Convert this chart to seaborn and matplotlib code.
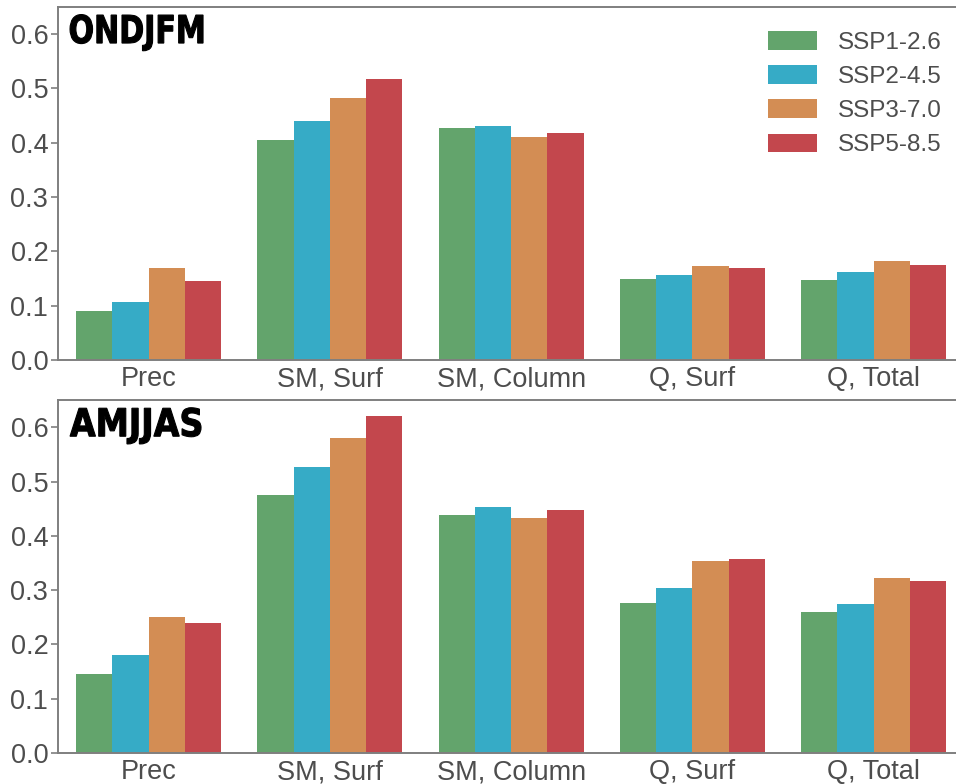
import pandas as pd
import numpy as np
import matplotlib
matplotlib.use("Agg")
import matplotlib.pyplot as plt
import seaborn as sns
from matplotlib.textpath import TextPath
from matplotlib.patches import PathPatch
from matplotlib.font_manager import FontProperties
from matplotlib.transforms import Affine2D, IdentityTransform

# Data
variables = ["Prec", "SM, Surf", "SM, Column", "Q, Surf", "Q, Total"]
scenarios = ["SSP1-2.6", "SSP2-4.5", "SSP3-7.0", "SSP5-8.5"]
colors = ["#63a46c", "#36abc6", "#d38d54", "#c3474d"]

# ONDJFM values, one list per scenario (order follows variables)
ondjfm_ssp126 = [0.090, 0.405, 0.427, 0.149, 0.147]
ondjfm_ssp245 = [0.107, 0.440, 0.431, 0.156, 0.162]
ondjfm_ssp370 = [0.169, 0.482, 0.411, 0.173, 0.182]
ondjfm_ssp585 = [0.145, 0.517, 0.418, 0.169, 0.175]

# AMJJAS values
amjjas_ssp126 = [0.145, 0.475, 0.438, 0.276, 0.260]
amjjas_ssp245 = [0.180, 0.527, 0.453, 0.304, 0.274]
amjjas_ssp370 = [0.250, 0.580, 0.433, 0.354, 0.322]
amjjas_ssp585 = [0.239, 0.621, 0.447, 0.357, 0.317]

yticks = [0.0, 0.1, 0.2, 0.3, 0.4, 0.5, 0.6]


def to_long(series_list):
    rows = []
    for scen, vals in zip(scenarios, series_list):
        for var, v in zip(variables, vals):
            rows.append({"variable": var, "scenario": scen, "value": v})
    return pd.DataFrame(rows)


df_ondjfm = to_long([ondjfm_ssp126, ondjfm_ssp245, ondjfm_ssp370, ondjfm_ssp585])
df_amjjas = to_long([amjjas_ssp126, amjjas_ssp245, amjjas_ssp370, amjjas_ssp585])

sns.set_style("white")
plt.rcParams['font.family'] = ['Liberation Sans', 'DejaVu Sans']

fig = plt.figure(figsize=(9.56, 7.84), dpi=100)
ax1 = fig.add_axes([0.0607, 0.541, 0.9404, 0.450])
ax2 = fig.add_axes([0.0607, 0.0395, 0.9404, 0.450])

tick_col = "#4d4d4d"
spine_col = "#7f7f7f"


def condensed_label(ax, text, width_px=133, cap_px=28, dx=12, dy=8):
    # heavy condensed panel label: a bold text path squeezed horizontally
    fp = FontProperties(family="DejaVu Sans", weight="bold")
    path = TextPath((0, 0), text, size=cap_px / 0.729, prop=fp)
    ext = path.get_extents()
    sx = width_px / ext.width
    bb = ax.get_window_extent()
    x0 = bb.x0 + dx - ext.x0 * sx
    y0 = bb.y1 - dy - cap_px
    tr = Affine2D().scale(sx, 1.0).translate(x0, y0) + IdentityTransform()
    fig.add_artist(PathPatch(path, transform=tr, facecolor="black",
                             edgecolor="black", linewidth=0.8))


panels = [(ax1, df_ondjfm, "ONDJFM", True, 133), (ax2, df_amjjas, "AMJJAS", False, 131)]
for ax, d, label, show_legend, w in panels:
    sns.barplot(data=d, x="variable", y="value", hue="scenario",
                order=variables, hue_order=scenarios, palette=colors,
                width=0.8, saturation=1, errorbar=None, linewidth=0,
                legend=show_legend, ax=ax)
    ax.set_ylim(0, 0.65)
    ax.set_xlim(-0.5, 4.46)
    ax.set_yticks(yticks)
    ax.set_yticklabels([f"{t:.1f}" for t in yticks])
    ax.set_xlabel("")
    ax.set_ylabel("")
    ax.tick_params(axis="y", which="both", left=True, length=5, width=1.2,
                   color=spine_col, labelsize=19.5, labelcolor=tick_col, pad=2)
    ax.tick_params(axis="x", bottom=False, labelsize=19.5, labelcolor=tick_col, pad=1)
    for s in ax.spines.values():
        s.set_color(spine_col)
        s.set_linewidth(1.4)
    condensed_label(ax, label, width_px=w)

leg = ax1.legend(loc="upper right", bbox_to_anchor=(1.007, 0.994), frameon=False,
                 fontsize=17.5, handlelength=2.0, handleheight=0.8,
                 labelspacing=0.47, handletextpad=0.85)
for t in leg.get_texts():
    t.set_color(tick_col)

fig.savefig("out.png", dpi=100)
